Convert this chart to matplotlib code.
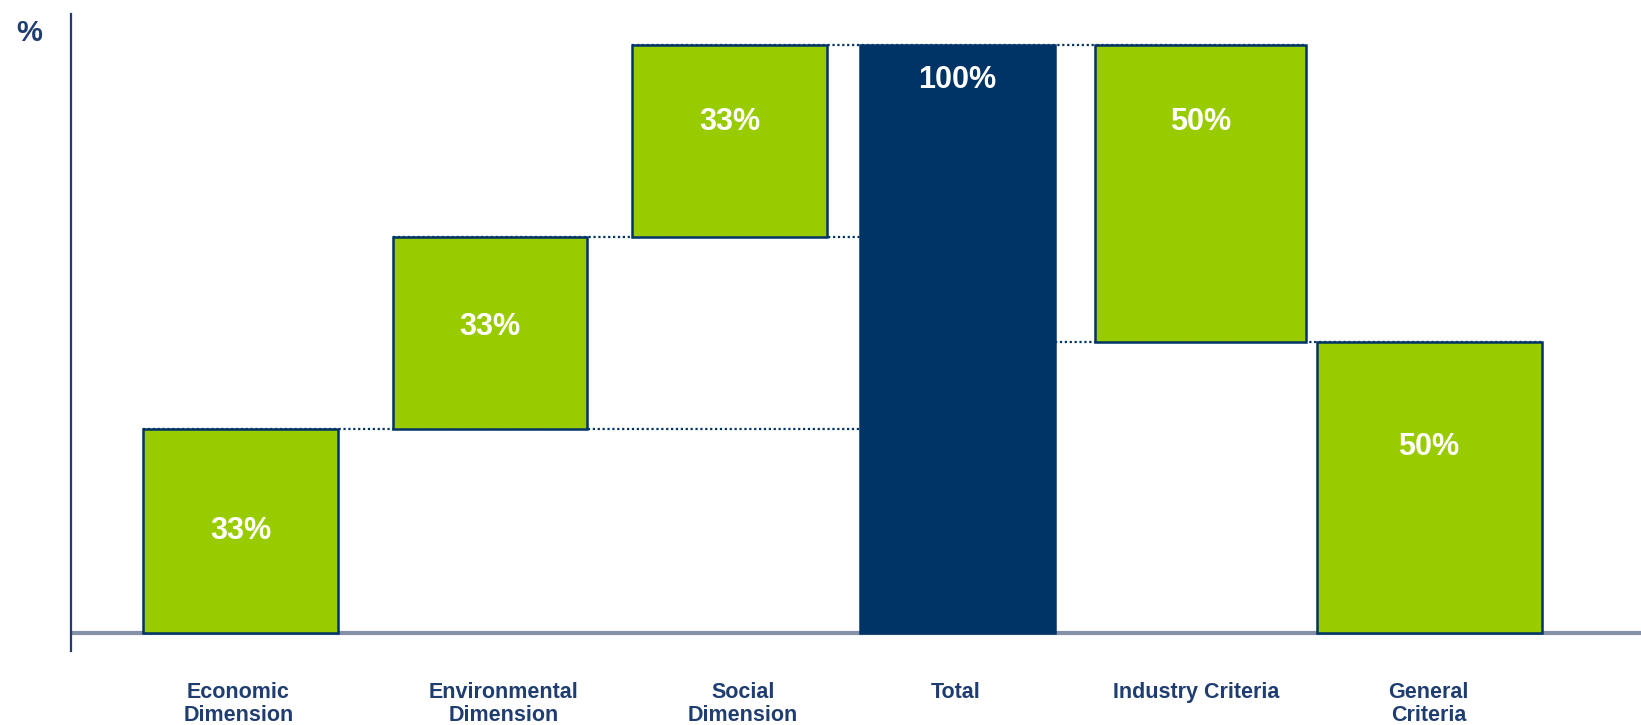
import matplotlib
matplotlib.use("Agg")
import matplotlib.pyplot as plt
import numpy as np

# categories and values
categories = ["Economic\nDimension", "Environmental\nDimension", "Social\nDimension",
              "Total", "Industry Criteria", "General\nCriteria"]
heights = [34.7, 32.7, 32.6, 100.0, 50.4, 49.6]
bottoms = [0.0, 34.7, 67.4, 0.0, 49.6, 0.0]
value_labels = ["33%", "33%", "33%", "100%", "50%", "50%"]

# layout (x in units of ~100 px, axis starts at 0)
bar_x = [1.62, 4.005, 6.29, 8.47, 10.79, 12.975]
bar_w = [1.86, 1.85, 1.86, 1.86, 2.02, 2.15]
label_x = [1.60, 4.13, 6.42, 8.45, 10.75, 12.97]
label_frac = [0.50, 0.53, 0.60, 0.94, 0.74, 0.64]

GREEN = "#99cc00"
NAVY = "#003366"
TEXT = "#1f3d70"
colors = [GREEN, GREEN, GREEN, NAVY, GREEN, GREEN]

W, H = 1641, 725
fig = plt.figure(figsize=(W / 100, H / 100), dpi=100)
ax = fig.add_axes([71 / W, 1 - 651 / H, 1 - 71 / W, (651 - 14) / H])
ax.set_xlim(0, 15)
ax.set_ylim(-3.0, 105.3)

# dotted connectors between steps
def connector(y, x0, x1):
    ax.plot([x0, x1], [y, y], color=NAVY, lw=1.6, ls=(0, (1, 1.2)), zorder=1)

left = [x - w / 2 for x, w in zip(bar_x, bar_w)]
right = [x + w / 2 for x, w in zip(bar_x, bar_w)]
connector(bottoms[1], left[0], left[3])
connector(bottoms[2], left[1], left[3])
connector(bottoms[2] + heights[2], left[2], right[4])
connector(bottoms[4], right[3], right[5])

for i in range(len(categories)):
    ax.bar(bar_x[i], heights[i], bottom=bottoms[i], width=bar_w[i],
           color=colors[i], edgecolor=NAVY, linewidth=1.8, zorder=3)
    ax.text(bar_x[i], bottoms[i] + heights[i] * label_frac[i], value_labels[i],
            ha="center", va="center", color="white", fontsize=22,
            fontweight="bold", family="Liberation Sans", zorder=4)

# axes
ax.axhline(0, color="#8591a8", lw=3, zorder=2)
for s in ["top", "right", "bottom"]:
    ax.spines[s].set_visible(False)
ax.spines["left"].set_color(TEXT)
ax.spines["left"].set_linewidth(1.6)
ax.set_yticks([])
ax.set_xticks(label_x)
ax.set_xticklabels(categories, color=TEXT, fontsize=15.5, fontweight="bold",
                   family="Liberation Sans", linespacing=1.15, va="top")
ax.tick_params(axis="x", length=0, pad=22)

fig.text(29 / W, 1 - 33 / H, "%", ha="center", va="center", color=TEXT,
         fontsize=21, fontweight="bold", family="Liberation Sans")

fig.savefig("out.png", dpi=100)
